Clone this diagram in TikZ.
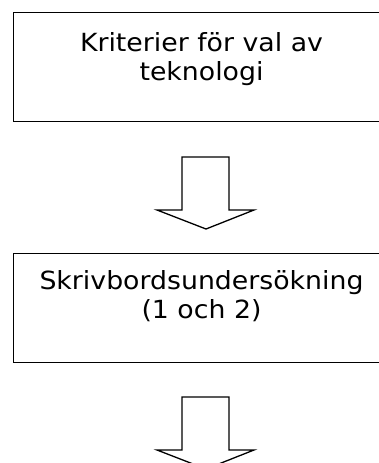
\documentclass[tikz,border=0pt]{standalone}
\usepackage{fontspec}
\setmainfont{DejaVu Sans}[FakeStretch=1.07]
\begin{document}
\begin{tikzpicture}[x=1pt,y=-1pt,
  box/.style={draw,line width=1.3pt,rectangle,minimum width=386pt,minimum height=109pt,anchor=north west,inner sep=0pt},
  label/.style={align=center,inner sep=0pt,font=\fontsize{25}{29.5}\selectfont},
  blockarrow/.style={draw,line width=1.3pt,line join=miter}]
  \useasboundingbox (0,0) rectangle (379,463);
  \clip (0,0) rectangle (379,463);
  % process steps
  \node[box] (b1) at (13,12) {};
  \node[label] (t1) at (201.5,59) {Kriterier för val av\\teknologi};
  \node[box] (b2) at (13,253) {};
  \node[label] (t2) at (201.5,296) {Skrivbordsundersökning\\(1 och 2)};
  % block arrows between steps
  \foreach \y in {157,397}{
    \draw[blockarrow] (182,\y) -- (229,\y) -- (229,\y+53) -- (254,\y+53)
      -- (206,\y+72) -- (157,\y+53) -- (182,\y+53) -- cycle;
  }
\end{tikzpicture}
\end{document}
